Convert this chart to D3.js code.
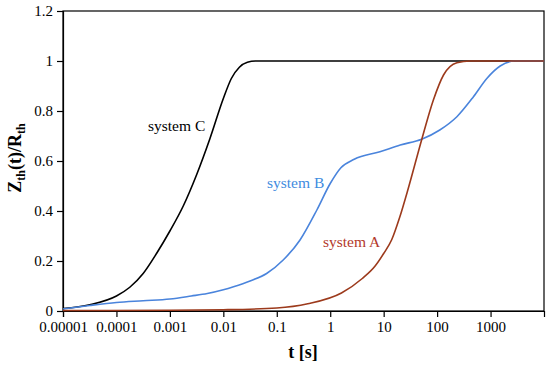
<!DOCTYPE html>
<html>
<head>
<meta charset="utf-8">
<script src="https://cdn.jsdelivr.net/npm/d3@7"></script>
<style>
  body { margin: 0; background: #fff; }
  svg text { font-family: "Liberation Serif", Tinos, "Times New Roman", "DejaVu Serif", serif; }
</style>
</head>
<body>
<div id="chart"></div>
<script>
const SERIF = '"Liberation Serif", Tinos, "Times New Roman", "DejaVu Serif", serif';

// tick values / labels
const xTicks = [1e-5, 1e-4, 1e-3, 1e-2, 1e-1, 1, 10, 100, 1000];
const xTickLabels = ["0.00001", "0.0001", "0.001", "0.01", "0.1", "1", "10", "100", "1000"];
const yTicks = [0, 0.2, 0.4, 0.6, 0.8, 1, 1.2];

// curves: [log10(t), Zth/Rth]
const systemC = [[-5, 0.01], [-4.5, 0.025], [-4.0, 0.06], [-3.75, 0.095], [-3.5, 0.15], [-3.25, 0.23],
  [-3.0, 0.32], [-2.75, 0.42], [-2.5, 0.545], [-2.25, 0.69], [-2.0, 0.85], [-1.85, 0.93], [-1.7, 0.975],
  [-1.55, 0.995], [-1.4, 1.0], [0, 1.0], [4, 1.0]];
const systemB = [[-5, 0.008], [-4.5, 0.022], [-4.0, 0.034], [-3.5, 0.041], [-3.0, 0.048], [-2.6, 0.06],
  [-2.3, 0.07], [-2.0, 0.085], [-1.81, 0.097], [-1.5, 0.12], [-1.19, 0.15], [-0.88, 0.204], [-0.565, 0.284],
  [-0.25, 0.404], [0.0, 0.51], [0.2, 0.573], [0.45, 0.607], [0.93, 0.637], [1.31, 0.664], [1.71, 0.687],
  [2.05, 0.724], [2.37, 0.777], [2.68, 0.857], [2.93, 0.93], [3.18, 0.98], [3.45, 1.0], [4, 1.0]];
const systemA = [[-5, 0.002], [-3, 0.003], [-2, 0.005], [-1.0, 0.012], [-0.42, 0.029], [0.21, 0.072],
  [0.6, 0.13], [0.84, 0.18], [1.0, 0.23], [1.15, 0.285], [1.3, 0.375], [1.46, 0.49], [1.71, 0.684],
  [1.93, 0.844], [2.12, 0.944], [2.37, 0.993], [2.62, 1.0], [4, 1.0]];

const series = [
  { name: "system C", data: systemC, color: "#000000", text: "#000000", label: [148, 131] },
  { name: "system B", data: systemB, color: "#4a84dc", text: "#3f8ce0", label: [267, 188] },
  { name: "system A", data: systemA, color: "#9c3a1c", text: "#b3392c", label: [323, 247] }
];

const W = 550, H = 366;
const margin = { top: 11, right: 6, bottom: 55, left: 63 };

const svg = d3.select("#chart").append("svg")
  .attr("width", W).attr("height", H);

const x = d3.scaleLog().domain([1e-5, 1e4]).range([margin.left, W - margin.right]);
const y = d3.scaleLinear().domain([0, 1.2]).range([H - margin.bottom, margin.top]);

// frame
svg.append("rect")
  .attr("x", x(1e-5)).attr("y", y(1.2))
  .attr("width", x(1e4) - x(1e-5)).attr("height", y(0) - y(1.2))
  .attr("fill", "none").attr("stroke", "#000").attr("stroke-width", 1.2);

// axes
const xAxis = svg.append("g")
  .attr("transform", `translate(0,${y(0)})`)
  .call(d3.axisBottom(x).tickValues(xTicks).tickFormat((d, i) => xTickLabels[i]).tickSize(6).tickPadding(4));
const yAxis = svg.append("g")
  .attr("transform", `translate(${x(1e-5)},0)`)
  .call(d3.axisLeft(y).tickValues(yTicks).tickFormat(d3.format("")).tickSize(6).tickPadding(4));

[xAxis, yAxis].forEach(g => {
  g.attr("font-family", SERIF).attr("font-size", 15);
  g.select(".domain").attr("stroke", "#000").attr("stroke-width", 1.2);
  g.selectAll(".tick line").attr("stroke", "#000").attr("stroke-width", 1.2);
  g.selectAll(".tick text").attr("fill", "#000");
});

// curves
const line = d3.line()
  .x(d => x(Math.pow(10, d[0])))
  .y(d => y(d[1]))
  .curve(d3.curveMonotoneX);

series.forEach(s => {
  svg.append("path")
    .datum(s.data)
    .attr("d", line)
    .attr("fill", "none")
    .attr("stroke", s.color)
    .attr("stroke-width", 1.6);
  svg.append("text")
    .attr("x", s.label[0]).attr("y", s.label[1])
    .attr("fill", s.text)
    .attr("font-family", SERIF)
    .attr("font-size", 15.5)
    .text(s.name);
});

// axis titles
svg.append("text")
  .attr("x", 303).attr("y", 358)
  .attr("text-anchor", "middle")
  .attr("font-family", SERIF)
  .attr("font-size", 18).attr("font-weight", "bold")
  .text("t [s]");

const yt = svg.append("text")
  .attr("transform", "translate(21,158) rotate(-90)")
  .attr("text-anchor", "middle")
  .attr("font-family", SERIF)
  .attr("font-size", 18).attr("font-weight", "bold");
yt.append("tspan").text("Z");
yt.append("tspan").attr("dy", 4).attr("font-size", 12).text("th");
yt.append("tspan").attr("dy", -4).text("(t)/R");
yt.append("tspan").attr("dy", 4).attr("font-size", 12).text("th");
</script>
</body>
</html>
